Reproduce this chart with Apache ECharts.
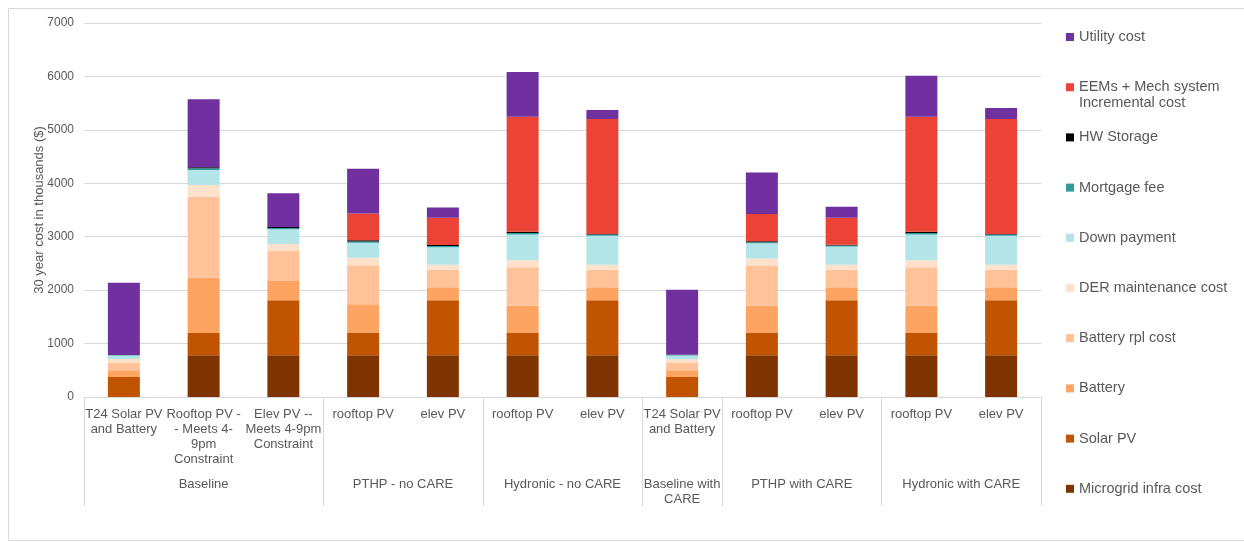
<!DOCTYPE html>
<html lang="en">
<head>
    <meta charset="UTF-8">
    <title>30 year cost comparison</title>
    <script src="https://cdn.jsdelivr.net/npm/echarts/dist/echarts.min.js"></script>
    <style>
        html, body { margin: 0; padding: 0; background: #fff; }
        #chart { width: 1244px; height: 543px; }
    </style>
</head>
<body>
    <div id="chart"></div>
    <script>
        // Category labels (bottom level) and groups (second level)
        var categories = [
            'T24 Solar PV\nand Battery',
            'Rooftop PV -\n- Meets 4-\n9pm\nConstraint',
            'Elev PV --\nMeets 4-9pm\nConstraint',
            'rooftop PV', 'elev PV',
            'rooftop PV', 'elev PV',
            'T24 Solar PV\nand Battery',
            'rooftop PV', 'elev PV',
            'rooftop PV', 'elev PV'
        ];
        var groupNames = ['Baseline', 'PTHP - no CARE', 'Hydronic - no CARE', 'Baseline with\nCARE', 'PTHP with CARE', 'Hydronic with CARE'];
        var groupSpans = [3, 2, 2, 1, 2, 2];

        var yTicks = [0, 1000, 2000, 3000, 4000, 5000, 6000, 7000];

        // Stack components, bottom to top (thousands of $)
        var microgrid  = [0, 780, 780, 780, 780, 780, 780, 0, 780, 780, 780, 780];
        var solarPV    = [375, 420, 1030, 425, 1030, 425, 1030, 375, 425, 1030, 425, 1030];
        var battery    = [112, 1030, 360, 530, 245, 505, 245, 112, 505, 245, 505, 245];
        var batteryRpl = [150, 1520, 570, 730, 325, 720, 325, 150, 750, 325, 720, 325];
        var derMaint   = [75, 220, 125, 140, 95, 130, 95, 70, 130, 95, 130, 95];
        var downPay    = [64, 280, 275, 280, 330, 480, 545, 70, 287, 340, 480, 545];
        var mortgage   = [12, 30, 25, 25, 20, 30, 20, 12, 20, 20, 30, 20];
        var hwStorage  = [0, 20, 15, 25, 20, 25, 12, 0, 20, 15, 25, 12];
        var eems       = [0, 0, 0, 500, 510, 2150, 2150, 0, 508, 506, 2150, 2150];
        var utility    = [1350, 1275, 633, 837, 194, 837, 169, 1217, 775, 207, 769, 206];

        var stackDefs = [
            { name: 'Microgrid infra cost', data: microgrid, color: '#7f3400' },
            { name: 'Solar PV', data: solarPV, color: '#c15400' },
            { name: 'Battery', data: battery, color: '#fea462' },
            { name: 'Battery rpl cost', data: batteryRpl, color: '#ffc299' },
            { name: 'DER maintenance cost', data: derMaint, color: '#fde1cb' },
            { name: 'Down payment', data: downPay, color: '#b3e4e7' },
            { name: 'Mortgage fee', data: mortgage, color: '#319a9e' },
            { name: 'HW Storage', data: hwStorage, color: '#000000' },
            { name: 'EEMs + Mech system\nIncremental cost', data: eems, color: '#eb4335' },
            { name: 'Utility cost', data: utility, color: '#7030a0' }
        ];

        var font = '"Liberation Sans", Arial, sans-serif';
        var textColor = '#595959';
        var lineColor = '#d9d9d9';

        // second level axis: half-category slots, labels at group centres
        var slots = [];
        for (var i = 0; i <= categories.length * 2; i++) slots.push('');
        var sepIdx = [0];
        var pos = 0;
        groupSpans.forEach(function (span, g) {
            slots[pos * 2 + span] = groupNames[g];
            pos += span;
            sepIdx.push(pos * 2);
        });

        var series = stackDefs.map(function (d) {
            return {
                name: d.name,
                type: 'bar',
                stack: 'total',
                barWidth: 32,
                xAxisIndex: 0,
                data: d.data,
                itemStyle: { color: d.color }
            };
        });

        // one legend per item so the spacing matches;
        // the two-line item gets a tall icon with the square at its top
        var tallIcon = 'path://M0,0L8,0L8,8L0,8Z M0,23.9L0.1,23.9L0.1,24L0,24Z';
        var legends = stackDefs.slice().reverse().map(function (d, i) {
            var cy = 37 + i * 50.2;
            var twoLine = d.name.indexOf('\n') >= 0;
            return {
                orient: 'vertical',
                left: 1066,
                top: cy - 8,
                padding: 0,
                icon: twoLine ? tallIcon : 'rect',
                itemWidth: 8,
                itemHeight: twoLine ? 24 : 8,
                selectedMode: false,
                data: [d.name],
                textStyle: {
                    color: textColor,
                    fontFamily: font,
                    fontSize: 14.5,
                    lineHeight: 16
                }
            };
        });

        var chart = echarts.init(document.getElementById('chart'));
        chart.setOption({
            animation: false,
            backgroundColor: '#fff',
            graphic: [{
                type: 'rect',
                shape: { x: 8.5, y: 8.5, width: 1240, height: 532 },
                style: { fill: 'none', stroke: lineColor, lineWidth: 1 },
                silent: true
            }],
            grid: { left: 84, right: 203, top: 23, bottom: 146 },
            legend: legends,
            xAxis: [{
                type: 'category',
                data: categories,
                axisLine: { lineStyle: { color: lineColor } },
                axisTick: { show: false },
                axisLabel: {
                    interval: 0,
                    margin: 10,
                    color: textColor,
                    fontFamily: font,
                    fontSize: 13,
                    lineHeight: 15
                }
            }, {
                type: 'category',
                data: slots,
                position: 'bottom',
                boundaryGap: false,
                axisLine: { show: false },
                axisTick: {
                    show: true,
                    length: 109,
                    interval: function (idx) { return sepIdx.indexOf(idx) >= 0; },
                    lineStyle: { color: lineColor }
                },
                axisLabel: {
                    interval: 0,
                    margin: 80,
                    color: textColor,
                    fontFamily: font,
                    fontSize: 13,
                    lineHeight: 15
                }
            }],
            yAxis: {
                type: 'value',
                min: yTicks[0],
                max: yTicks[yTicks.length - 1],
                interval: 1000,
                name: '30 year cost in thousands ($)',
                nameLocation: 'middle',
                nameGap: 38,
                nameMoveOverlap: false,
                nameTextStyle: { color: textColor, fontFamily: font, fontSize: 13 },
                axisLine: { show: false },
                axisTick: { show: false },
                splitLine: { lineStyle: { color: lineColor } },
                axisLabel: {
                    color: textColor,
                    fontFamily: font,
                    fontSize: 12,
                    margin: 10,
                    formatter: function (v) { return String(v); }
                }
            },
            series: series
        });
    </script>
</body>
</html>
